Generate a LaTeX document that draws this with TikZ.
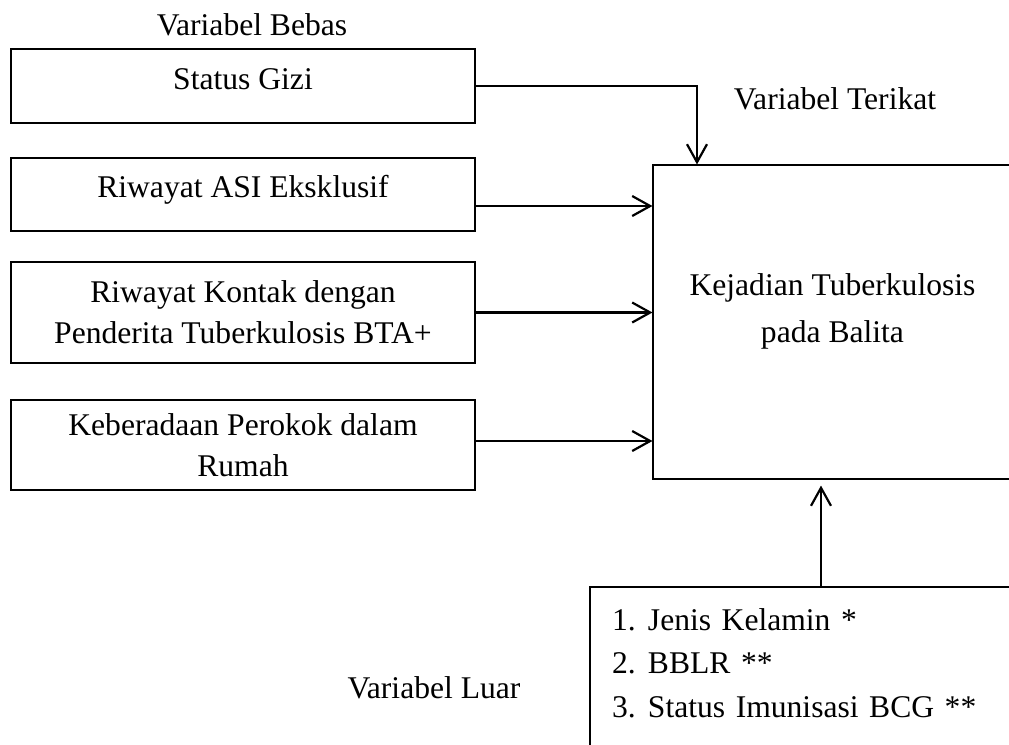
\documentclass[tikz,border=0pt]{standalone}
\usepackage{fontspec}
\setmainfont{Liberation Serif}
\usetikzlibrary{arrows.meta}
\tikzset{
 box/.style={draw,line width=0.55pt,inner sep=0pt,align=center,minimum width=232pt},
 arrow/.style={-{Straight Barb[length=9pt,width=10pt]},line width=1.1pt},
 judul/.style={anchor=base}
}
\newcommand{\nomor}[1]{\makebox[18pt][l]{#1}}

\begin{document}
\begin{tikzpicture}[x=0.5pt,y=-0.5pt,font=\fontsize{15.8pt}{20.5pt}\selectfont]
\useasboundingbox (0,0) rectangle (1009,745);
% variabel bebas
\node[judul] (bebas) at (252,35) {Variabel Bebas};
\node[box,minimum height=37pt,text depth=6.75pt] (gizi) at (243,86) {Status Gizi};
\node[box,minimum height=36.5pt,text depth=8.3pt] (asi) at (243,194.5) {Riwayat ASI Eksklusif};
\node[box,minimum height=50.5pt] (kontak) at (243,312.5) {Riwayat Kontak dengan\\Penderita Tuberkulosis BTA+};
\node[box,minimum height=45pt] (rokok) at (243,445) {Keberadaan Perokok dalam\\Rumah};
% variabel terikat
\node[judul] (terikat) at (835,109) {Variabel Terikat};
\node[box,minimum width=179.5pt,minimum height=157pt,text depth=14.3pt,
  font={\fontsize{15.8pt}{23.5pt}\selectfont}] (tb) at (832.5,322)
  {Kejadian Tuberkulosis\\pada Balita};
% variabel luar
\node[judul] (luarjudul) at (434,698) {Variabel Luar};
\node[box,minimum width=212.5pt,minimum height=86.5pt,text width=190.5pt,align=left,
  text depth=54.3pt,font={\fontsize{15.8pt}{21.75pt}\selectfont}] (luar) at (802.5,673.5)
  {\nomor{1.}Jenis Kelamin *\\\nomor{2.}BBLR **\\\nomor{3.}Status Imunisasi BCG **};
% panah
\coordinate (kolom) at (697,0);
\coordinate (naik) at (821,0);
\draw[arrow] (gizi.east) -| (tb.north -| kolom);
\draw[arrow] ([yshift=-5.75pt]asi.east) -- ([yshift=-5.75pt]asi.east -| tb.west);
\draw[arrow] (kontak) -- (kontak -| tb.west);
\draw[arrow] ([yshift=2pt]rokok.east) -- ([yshift=2pt]rokok.east -| tb.west);
\draw[arrow,shorten >=3pt] (luar.north -| naik) -- (tb.south -| naik);
\end{tikzpicture}
\end{document}
